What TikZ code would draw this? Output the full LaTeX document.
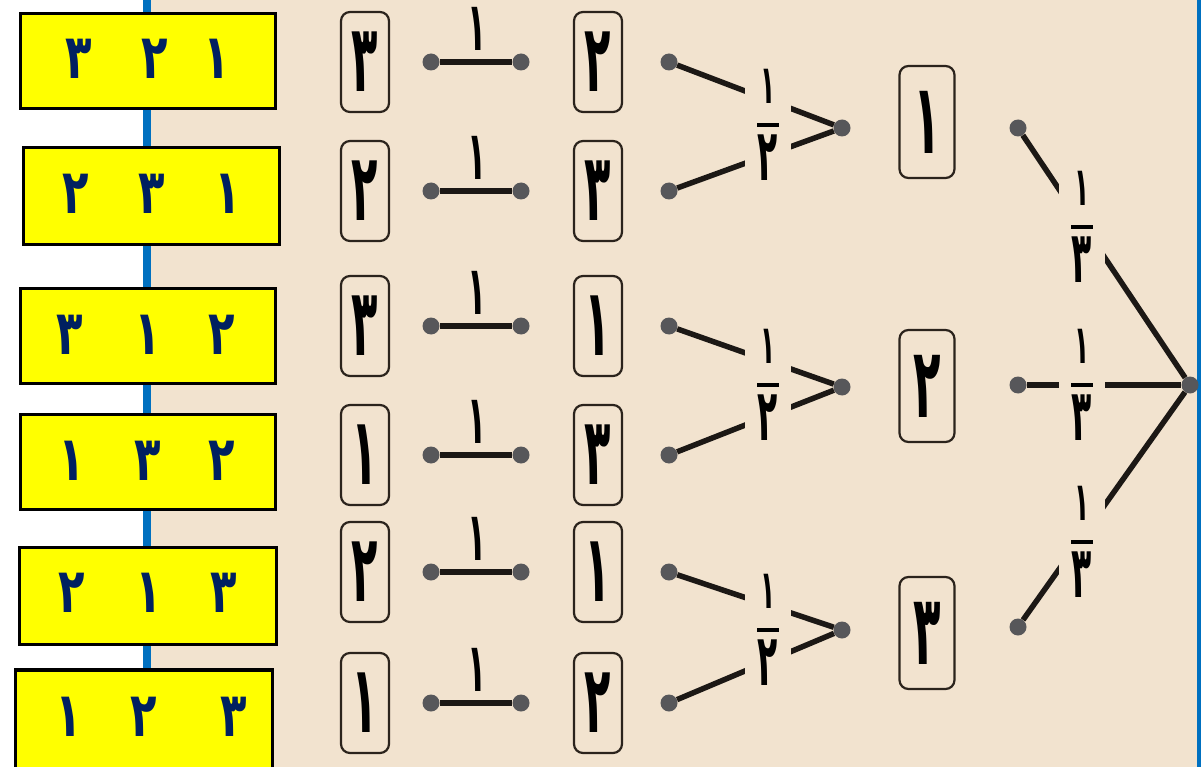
\documentclass[tikz,border=0pt]{standalone}
\usepackage{fontspec}
\usepackage{graphicx}
\newfontfamily\arabicfont[Script=Arabic]{DejaVu Sans}
\definecolor{bg}{HTML}{F2E3CF}
\definecolor{rule}{HTML}{0070C0}
\definecolor{yel}{HTML}{FFFF00}
\definecolor{navy}{HTML}{002060}
\definecolor{linec}{HTML}{1C1815}
\definecolor{dotc}{HTML}{57575A}
\definecolor{boxc}{HTML}{2B231C}
% tall, narrow digit used in the tree
\newcommand\tdig[2][94]{\scalebox{0.46}[1]{\fontsize{#1}{#1}\selectfont\arabicfont\bfseries #2}}
% bold digit in the yellow boxes
\newcommand\ydig[1]{\scalebox{0.7}[1]{\fontsize{62}{62}\selectfont\arabicfont\bfseries #1}}
% stacked fraction 1 over #1
\newcommand\fracstack[1]{\vbox{\offinterlineskip\halign{\hfil##\hfil\cr
  \tdig[54]{١}\cr\noalign{\kern20pt}\rule{22pt}{4pt}\cr\noalign{\kern8pt}\tdig[72]{#1}\cr}}}
\begin{document}
\begin{tikzpicture}[x=1pt,y=-1pt,
  ybox/.style={draw=black,line width=3.5pt,fill=yel,inner sep=0pt},
  ydigit/.style={text=navy,inner sep=0pt},
  tbox/.style={draw=boxc,line width=2.2pt,rounded corners=9pt,
    minimum width=48pt,minimum height=100pt,inner sep=0pt},
  lbox/.style={tbox,minimum width=55pt,minimum height=112pt},
  dot/.style={circle,fill=dotc,minimum size=17pt,inner sep=0pt},
  edge/.style={draw=linec,line width=5.5pt},
  fracl/.style={fill=bg,inner xsep=12pt,inner ysep=0pt}]
\useasboundingbox (0,0) rectangle (1201,767);
% backgrounds
\fill[white] (0,0) rectangle (151,767);
\fill[bg] (151,0) rectangle (1201,767);
\fill[rule] (143,0) rectangle (151,767);
\fill[rule] (1197,0) rectangle (1201,767);

% yellow result boxes
\node[ybox,minimum width=255pt,minimum height=95pt] (y1) at (148,61) {};
\node[ybox,minimum width=256pt,minimum height=97pt] (y2) at (151.5,196) {};
\node[ybox,minimum width=255pt,minimum height=95pt] (y3) at (148,336) {};
\node[ybox,minimum width=255pt,minimum height=95pt] (y4) at (148,462) {};
\node[ybox,minimum width=257pt,minimum height=97pt] (y5) at (148,596) {};
\node[ybox,minimum width=257pt,minimum height=110pt] (y6) at (144,725) {};

\foreach \n/\x/\y/\d in {
  a1/79/59/٣, b1/155/59/٢, c1/217/59/١,
  a2/76/194/٢, b2/152/194/٣, c2/228/194/١,
  a3/70/335/٣, b3/148/335/١, c3/222/335/٢,
  a4/72/461/١, b4/148/461/٣, c4/222/461/٢,
  a5/72/593/٢, b5/149/593/١, c5/224/593/٣,
  a6/69/717/١, b6/144/717/٢, c6/234/717/٣}
  \node[ydigit] (yd\n) at (\x,\y) {\ydig{\d}};

% leaves: two boxes joined by an edge labelled 1
\foreach \i/\y/\a/\b in {1/62/٣/٢, 2/191/٢/٣, 3/326/٣/١, 4/455/١/٣, 5/572/٢/١, 6/703/١/٢} {
  \node[tbox] (c\i) at (365,\y) {\tdig{\a}};
  \node[tbox] (e\i) at (598,\y) {\tdig{\b}};
  \node[dot] (ha\i) at (431,\y) {};
  \node[dot] (hb\i) at (521,\y) {};
  \draw[edge] (ha\i) -- (hb\i);
  \node[anchor=south,inner sep=0pt] (hl\i) at (477,{\y-11}) {\tdig[68]{١}};
  \node[dot] (m\i) at (669,\y) {};
}

% second level
\node[dot] (j1) at (842,128) {};
\node[dot] (j2) at (842,387) {};
\node[dot] (j3) at (842,630) {};
\draw[edge] (m1) -- (j1);
\draw[edge] (m2) -- (j1);
\draw[edge] (m3) -- (j2);
\draw[edge] (m4) -- (j2);
\draw[edge] (m5) -- (j3);
\draw[edge] (m6) -- (j3);
\node[fracl] (f1) at (768,125) {\fracstack{٢}};
\node[fracl] (f2) at (768,385) {\fracstack{٢}};
\node[fracl] (f3) at (768,630) {\fracstack{٢}};

% first level
\node[lbox] (L1) at (927,122) {\tdig[98]{١}};
\node[lbox] (L2) at (927,386) {\tdig[98]{٢}};
\node[lbox] (L3) at (927,633) {\tdig[98]{٣}};
\node[dot] (k1) at (1018,128) {};
\node[dot] (k2) at (1018,385) {};
\node[dot] (k3) at (1018,627) {};
\node[dot] (root) at (1190,385) {};
\draw[edge] (k1) -- (root);
\draw[edge] (k2) -- (root);
\draw[edge] (k3) -- (root);
\node[fracl] (g1) at (1082,227) {\fracstack{٣}};
\node[fracl] (g2) at (1082,385) {\fracstack{٣}};
\node[fracl] (g3) at (1082,542) {\fracstack{٣}};
\end{tikzpicture}
\end{document}
